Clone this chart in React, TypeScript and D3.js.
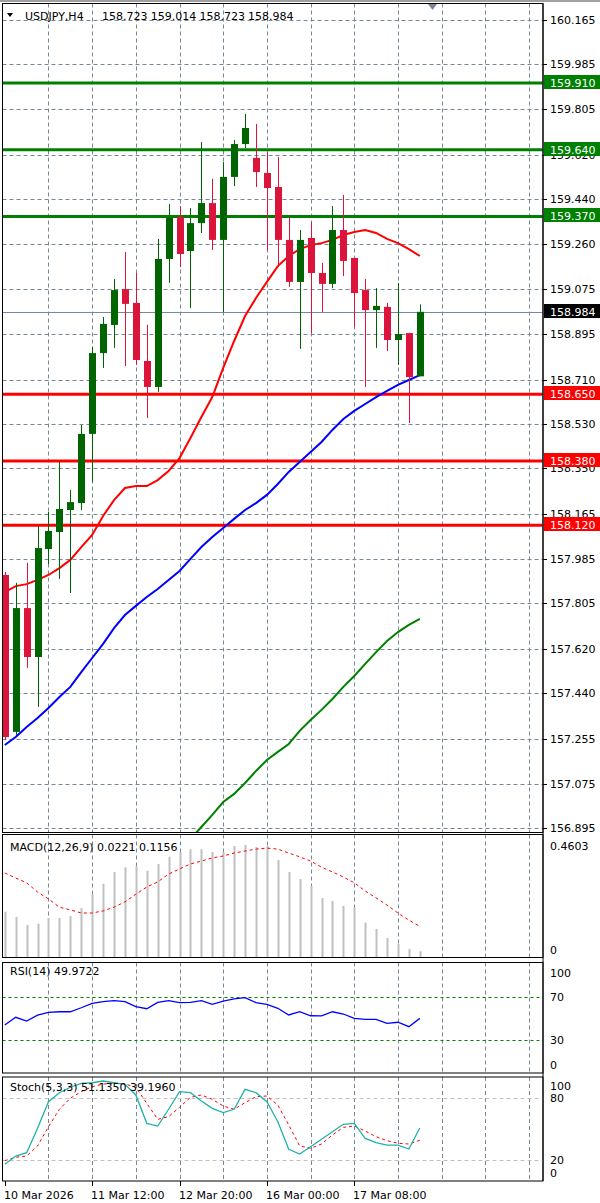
import React from 'react';
import * as d3 from 'd3';

const W = 600;
const H = 1203;

const timeTickIdx = [0, 8, 16, 24, 32];
const timeTickLabels = ['10 Mar 2026', '11 Mar 12:00', '12 Mar 20:00', '16 Mar 00:00', '17 Mar 08:00'];

const openP = [157.919,157.284,157.785,157.587,158.024,158.093,158.182,158.210,158.490,158.817,158.931,159.076,159.020,158.785,158.680,159.198,159.368,159.230,159.343,159.424,159.275,159.530,159.663,159.607,159.546,159.489,159.275,159.105,159.283,159.141,159.097,159.315,159.202,159.072,158.991,159.004,158.870,158.898,158.723];
const highP = [157.931,157.887,157.968,158.117,158.174,158.376,158.263,158.526,158.842,158.963,159.117,159.226,159.141,158.931,159.279,159.420,159.412,159.404,159.671,159.522,159.590,159.679,159.785,159.744,159.631,159.611,159.368,159.315,159.348,159.182,159.412,159.457,159.202,159.117,159.080,159.020,159.101,158.898,159.014];
const lowP = [157.251,157.271,157.543,157.385,157.963,157.903,157.846,158.182,158.295,158.757,158.838,158.765,158.769,158.554,158.660,159.101,159.165,158.999,159.303,159.234,158.983,159.493,159.647,159.489,159.234,159.165,159.085,158.834,158.898,158.983,159.080,159.129,158.923,158.680,158.838,158.825,158.769,158.534,158.723];
const closeP = [157.263,157.785,157.587,158.028,158.097,158.186,158.214,158.490,158.817,158.935,159.072,159.016,158.789,158.680,159.198,159.364,159.218,159.343,159.424,159.275,159.530,159.663,159.728,159.550,159.485,159.275,159.105,159.275,159.141,159.097,159.315,159.190,159.060,158.991,159.008,158.870,158.894,158.720,158.984];

const maRed = [157.850,157.874,157.882,157.899,157.919,157.947,157.980,158.032,158.081,158.158,158.222,158.271,158.279,158.279,158.303,158.340,158.392,158.473,158.558,158.639,158.757,158.866,158.967,159.040,159.105,159.169,159.210,159.238,159.254,159.262,159.275,159.295,159.307,159.315,159.303,159.279,159.262,159.238,159.210];
const maBlue = [157.231,157.263,157.304,157.340,157.381,157.425,157.466,157.526,157.583,157.640,157.704,157.757,157.794,157.830,157.862,157.899,157.935,157.984,158.032,158.073,158.109,158.146,158.182,158.210,158.243,158.287,158.336,158.376,158.417,158.457,158.506,158.550,158.583,158.611,158.639,158.664,158.688,158.708,158.728];
const maGreenStart = 17;
const maGreen = [156.851,156.899,156.948,157.000,157.033,157.077,157.126,157.170,157.203,157.235,157.288,157.332,157.373,157.417,157.466,157.510,157.559,157.607,157.652,157.688,157.717,157.741];

const macdHist = [0.171,0.151,0.121,0.125,0.147,0.147,0.155,0.184,0.237,0.276,0.321,0.339,0.343,0.325,0.351,0.378,0.396,0.407,0.407,0.396,0.396,0.419,0.423,0.415,0.419,0.366,0.321,0.294,0.268,0.223,0.211,0.192,0.188,0.129,0.106,0.072,0.049,0.030,0.0221];
const macdSignal = [0.317,0.298,0.280,0.245,0.219,0.188,0.178,0.166,0.166,0.174,0.188,0.208,0.237,0.264,0.283,0.313,0.332,0.351,0.362,0.374,0.381,0.392,0.400,0.407,0.411,0.407,0.392,0.378,0.362,0.339,0.321,0.302,0.280,0.249,0.223,0.196,0.166,0.139,0.1156];

const rsiVals = [43.9,51.0,47.5,53.0,55.6,56.1,56.1,59.8,63.9,65.4,66.3,65.4,60.8,58.9,64.8,66.3,64.5,64.8,66.3,63.0,66.0,67.9,69.1,64.5,63.0,59.3,53.1,56.1,52.4,52.2,56.1,54.0,50.0,49.1,49.1,45.4,46.4,42.3,49.97];

const stochMain = [15.8,23.9,27.1,50.9,76.8,85.5,90.8,94.6,95.2,96.9,95.2,93.7,83.3,55.7,53.1,69.4,86.5,85.5,77.4,70.3,66.1,69.4,88.8,85.5,76.8,57.3,30.4,25.9,33.0,40.2,47.6,54.8,55.7,41.1,36.9,34.6,34.6,30.7,51.135];
const stochSignal = [19.4,22.7,23.9,33.7,52.4,69.4,80.1,86.5,91.3,94.0,94.6,94.0,90.8,75.2,59.6,62.2,71.3,81.0,83.3,79.1,72.6,69.4,75.8,81.6,82.3,73.5,54.1,33.7,31.4,35.6,44.4,51.8,53.1,48.2,42.7,38.8,36.3,35.6,39.196];

const priceTicks = [160.165,159.985,159.805,159.620,159.440,159.260,159.075,158.895,158.710,158.530,158.350,158.165,157.985,157.805,157.620,157.440,157.255,157.075,156.895];
const resistLevels = [159.910, 159.640, 159.370];
const supportLevels = [158.650, 158.380, 158.120];
const lastPrice = 158.984;
const headerText = 'USDJPY,H4';
const headerValues = ['158.723', '159.014', '158.723', '158.984'];
const macdTitle = 'MACD(12,26,9) 0.0221 0.1156';
const macdMaxLabel = '0.4603';
const rsiTitle = 'RSI(14) 49.9722';
const rsiLevels = [70, 30];
const rsiLabels = [100, 70, 30, 0];
const stochTitle = 'Stoch(5,3,3) 51.1350 39.1960';
const stochLevels = [80, 20];
const stochLabels = [100, 80, 20, 0];

const FONT = '"DejaVu Sans", Tahoma, sans-serif';
const GRID = '#778899';
const BULL = '#006400';
const BEAR = '#dc143c';

const L = 2.5;
const R = 543;
const MAIN = { top: 3.5, bottom: 832.5 };
const MACDP = { top: 834.5, bottom: 957.5 };
const RSIP = { top: 962.5, bottom: 1073 };
const STOP = { top: 1077, bottom: 1181 };

export default function App() {
  const n = closeP.length;
  const x = d3.scaleLinear().domain([0, 38]).range([4.8, 419.8]);
  const y = d3.scaleLinear().domain([156.895, 160.165]).range([828, 20]);
  const yM = d3.scaleLinear().domain([0, 0.4603]).range([957, 835]);
  const yR = d3.scaleLinear().domain([0, 100]).range([1072.5, 964.2]);
  const yS = d3.scaleLinear().domain([0, 100]).range([1180.6, 1077.8]);

  const gridIdx = d3.range(4, 52, 4);
  const idx = d3.range(n);

  const lineP = (arr: number[], start = 0) =>
    d3.line<number>().x((_, i) => x(i + start)).y((v) => y(v))(arr) || '';
  const lineF = (arr: number[], sc: d3.ScaleLinear<number, number>) =>
    d3.line<number>().x((_, i) => x(i)).y((v) => sc(v))(arr) || '';

  const vGrid = (top: number, bottom: number, key: string) =>
    gridIdx.map((g) => (
      <line key={key + g} x1={Math.round(x(g)) + 0.5} x2={Math.round(x(g)) + 0.5} y1={top} y2={bottom}
        stroke={GRID} strokeWidth={1} strokeDasharray="4,3" />
    ));

  const frame = (p: { top: number; bottom: number }, key: string) => (
    <rect key={key} x={L} y={p.top} width={R - L} height={p.bottom - p.top} fill="none" stroke="#000" strokeWidth={1} />
  );

  const levelBox = (v: number, color: string, key: string) => {
    const yy = Math.round(y(v));
    return (
      <g key={key}>
        <rect x={544} y={yy - 8} width={56} height={14} fill={color} />
        <text x={550} y={yy + 3.5} fontSize={11} fill="#fff" fontFamily={FONT}>{v.toFixed(3)}</text>
      </g>
    );
  };

  return (
    <svg width={W} height={H} style={{ position: 'absolute', left: 0, top: 0, background: '#fff' }}
      xmlns="http://www.w3.org/2000/svg">
      <defs>
        <clipPath id="mainClip"><rect x={L + 0.5} y={MAIN.top + 0.5} width={R - L - 1} height={MAIN.bottom - MAIN.top - 1} /></clipPath>
        <clipPath id="macdClip"><rect x={L + 0.5} y={MACDP.top + 0.5} width={R - L - 1} height={MACDP.bottom - MACDP.top - 1} /></clipPath>
      </defs>
      <rect x={0} y={0} width={W} height={H} fill="#fff" />
      <rect x={0} y={0} width={W} height={2} fill="#a0a0a0" />

      {/* MAIN PANEL */}
      <g clipPath="url(#mainClip)">
        {priceTicks.map((t) => (
          <line key={'hg' + t} x1={L} x2={R} y1={Math.round(y(t)) + 0.5} y2={Math.round(y(t)) + 0.5}
            stroke={GRID} strokeWidth={1} strokeDasharray="4,3" />
        ))}
        {vGrid(MAIN.top, MAIN.bottom, 'mv')}
        <line x1={L} x2={R} y1={Math.round(y(lastPrice)) + 0.5} y2={Math.round(y(lastPrice)) + 0.5} stroke={GRID} strokeWidth={1} />
        {resistLevels.map((v) => (
          <line key={'rl' + v} x1={L} x2={R} y1={y(v)} y2={y(v)} stroke="#008000" strokeWidth={3} />
        ))}
        {supportLevels.map((v) => (
          <line key={'sl' + v} x1={L} x2={R} y1={y(v)} y2={y(v)} stroke="#ff0000" strokeWidth={3} />
        ))}
        <path d={lineP(maGreen, maGreenStart)} fill="none" stroke="#008000" strokeWidth={2} />
        <path d={lineP(maBlue)} fill="none" stroke="#0000ff" strokeWidth={2} />
        <path d={lineP(maRed)} fill="none" stroke="#ff0000" strokeWidth={2} />
        {idx.map((i) => {
          const up = closeP[i] >= openP[i];
          const c = up ? BULL : BEAR;
          const cx = Math.round(x(i)) + 0.5;
          const top = y(Math.max(openP[i], closeP[i]));
          const bot = y(Math.min(openP[i], closeP[i]));
          return (
            <g key={'c' + i}>
              <line x1={cx} x2={cx} y1={y(highP[i])} y2={y(lowP[i])} stroke={c} strokeWidth={1} />
              <rect x={cx - 3.5} y={top} width={7} height={Math.max(bot - top, 1)} fill={c} />
            </g>
          );
        })}
      </g>
      {frame(MAIN, 'mf')}
      {/* header */}
      <path d="M7,13 L13,13 L10,17 Z" fill="#000" />
      <text x={25} y={20} fontSize={11} fontFamily={FONT} fill="#000">{headerText}</text>
      {headerValues.map((v, i) => (
        <text key={'hv' + i} x={102 + i * 48.7} y={20} fontSize={11} fontFamily={FONT} fill="#000">{v}</text>
      ))}
      <path d="M428,4 L437,4 L432.5,10 Z" fill={GRID} />

      {/* price axis */}
      <line x1={R} x2={R} y1={MAIN.top} y2={STOP.bottom} stroke="#000" strokeWidth={1} />
      {priceTicks.map((t) => (
        <g key={'pt' + t}>
          <line x1={R} x2={R + 4} y1={Math.round(y(t)) + 0.5} y2={Math.round(y(t)) + 0.5} stroke="#000" />
          <text x={550} y={y(t) + 4} fontSize={11} fontFamily={FONT} fill="#000">{t.toFixed(3)}</text>
        </g>
      ))}
      {resistLevels.map((v) => levelBox(v, '#008000', 'rb' + v))}
      {supportLevels.map((v) => levelBox(v, '#ff0000', 'sb' + v))}
      {levelBox(lastPrice, '#000000', 'lp')}

      {/* MACD PANEL */}
      {vGrid(MACDP.top, MACDP.bottom, 'macv')}
      <g clipPath="url(#macdClip)">
        {idx.map((i) => (
          <line key={'mh' + i} x1={Math.round(x(i)) + 0.5} x2={Math.round(x(i)) + 0.5} y1={yM(0)} y2={yM(macdHist[i])}
            stroke="#c0c0c0" strokeWidth={2} />
        ))}
        <path d={lineF(macdSignal, yM)} fill="none" stroke="#ff0000" strokeWidth={1} strokeDasharray="3,3" />
      </g>
      {frame(MACDP, 'macf')}
      <text x={10} y={851} fontSize={11} fontFamily={FONT} fill="#000">{macdTitle}</text>
      <text x={550} y={850} fontSize={11} fontFamily={FONT} fill="#000">{macdMaxLabel}</text>
      <text x={550} y={954} fontSize={11} fontFamily={FONT} fill="#000">0</text>

      {/* RSI PANEL */}
      {vGrid(RSIP.top, RSIP.bottom, 'rv')}
      {rsiLevels.map((lv) => (
        <line key={'rlv' + lv} x1={L} x2={R} y1={Math.round(yR(lv)) + 0.5} y2={Math.round(yR(lv)) + 0.5}
          stroke="#008000" strokeWidth={1} strokeDasharray="3,3" />
      ))}
      <path d={lineF(rsiVals, yR)} fill="none" stroke="#0000ff" strokeWidth={1.3} />
      {frame(RSIP, 'rf')}
      <text x={10} y={975} fontSize={11} fontFamily={FONT} fill="#000">{rsiTitle}</text>
      {rsiLabels.map((lv) => {
        const yy = lv === 100 ? 977 : lv === 0 ? 1069 : yR(lv) + 4;
        return <text key={'rlab' + lv} x={550} y={yy} fontSize={11} fontFamily={FONT} fill="#000">{lv}</text>;
      })}

      {/* STOCH PANEL */}
      {vGrid(STOP.top, STOP.bottom, 'sv')}
      {stochLevels.map((lv) => (
        <line key={'slv' + lv} x1={L} x2={R} y1={Math.round(yS(lv)) + 0.5} y2={Math.round(yS(lv)) + 0.5}
          stroke="#c0c0c0" strokeWidth={1} strokeDasharray="4,3" />
      ))}
      <path d={lineF(stochSignal, yS)} fill="none" stroke="#ff0000" strokeWidth={1} strokeDasharray="3,3" />
      <path d={lineF(stochMain, yS)} fill="none" stroke="#20b2aa" strokeWidth={1.3} />
      {frame(STOP, 'sf')}
      <text x={10} y={1091} fontSize={11} fontFamily={FONT} fill="#000">{stochTitle}</text>
      {stochLabels.map((lv) => {
        const yy = lv === 100 ? 1090 : lv === 0 ? 1177 : yS(lv) + 4;
        return <text key={'slab' + lv} x={550} y={yy} fontSize={11} fontFamily={FONT} fill="#000">{lv}</text>;
      })}

      {/* time axis */}
      {timeTickIdx.map((ti, k) => (
        <g key={'tt' + ti}>
          <line x1={Math.round(x(ti)) + 0.5} x2={Math.round(x(ti)) + 0.5} y1={STOP.bottom} y2={STOP.bottom + 5} stroke="#000" />
          <text x={Math.round(x(ti)) - 1} y={1199} fontSize={11} fontFamily={FONT} fill="#000">{timeTickLabels[k]}</text>
        </g>
      ))}
    </svg>
  );
}
